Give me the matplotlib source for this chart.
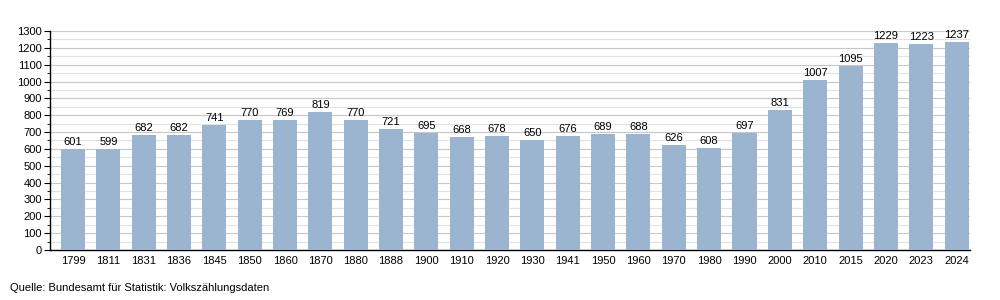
import matplotlib.pyplot as plt
import numpy as np

years = ["1799", "1811", "1831", "1836", "1845", "1850", "1860", "1870", "1880", "1888",
         "1900", "1910", "1920", "1930", "1941", "1950", "1960", "1970", "1980", "1990",
         "2000", "2010", "2015", "2020", "2023", "2024"]
population = [601, 599, 682, 682, 741, 770, 769, 819, 770, 721,
              695, 668, 678, 650, 676, 689, 688, 626, 608, 697,
              831, 1007, 1095, 1229, 1223, 1237]

plt.rcParams['font.family'] = ['Liberation Sans', 'DejaVu Sans']

fig = plt.figure(figsize=(10, 3), dpi=100)
ax = fig.add_axes([0.05, 0.1667, 0.92, 0.73])

x = np.arange(len(years))
ax.bar(x, population, width=0.68, color='#9bb4cf', zorder=3)
for xi, v in zip(x, population):
    ax.text(xi, v + 12, str(v), ha='center', va='bottom', fontsize=8, color='black')

ax.set_xlim(-0.65, len(years) - 0.62)
ax.set_ylim(0, 1300)
ax.set_yticks(np.arange(0, 1301, 100))
ax.set_yticks(np.arange(50, 1300, 100), minor=True)
ax.yaxis.grid(True, which='major', color='#c8c8c8', linewidth=0.8, zorder=0)
ax.yaxis.grid(True, which='minor', color='#e2e2e2', linewidth=0.8, zorder=0)
ax.set_xticks(x)
ax.set_xticklabels(years)
ax.tick_params(axis='x', length=0, labelsize=8, pad=4)
ax.tick_params(axis='y', which='major', length=4, labelsize=8, pad=2)
ax.tick_params(axis='y', which='minor', length=2)

for s in ['top', 'right']:
    ax.spines[s].set_visible(False)
ax.spines['left'].set_linewidth(1)
ax.spines['bottom'].set_linewidth(1)

fig.text(0.01, 0.03, "Quelle: Bundesamt für Statistik: Volkszählungsdaten", fontsize=8)

fig.savefig("out.png", dpi=100)
